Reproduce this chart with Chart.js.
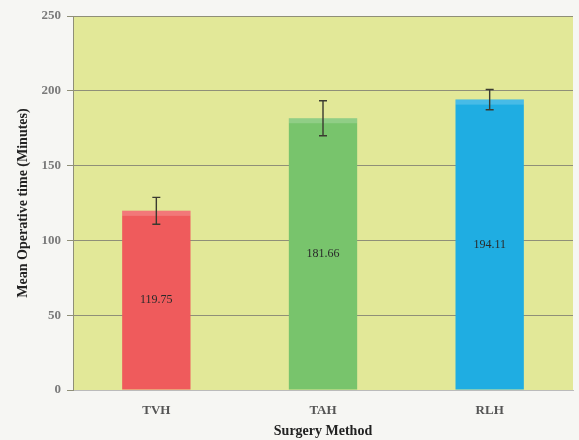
<!DOCTYPE html>
<html><head><meta charset="utf-8">
<script src="https://cdn.jsdelivr.net/npm/chart.js@4"></script>
<style>html,body{margin:0;padding:0;background:#f6f6f3;}#wrap{width:579px;height:440px;}</style>
</head><body><div id="wrap"><canvas id="c" width="579" height="440"></canvas></div>
<script>
const categories = ["TVH", "TAH", "RLH"];
const meanTime = [119.75, 181.66, 194.11];
const errorPlusMinus = [9, 11.7, 6.8];
const valueLabels = ["119.75", "181.66", "194.11"];
const yTicks = [0, 50, 100, 150, 200, 250];
const barColors = ["#ef5b5c", "#78c46c", "#1fade2"];

const bgPlugin = {
  id: 'bg',
  beforeDraw(chart) {
    const {ctx, chartArea: a} = chart;
    ctx.save();
    ctx.fillStyle = '#e2e898';
    ctx.fillRect(a.left, a.top, a.right - a.left, a.bottom - a.top);
    ctx.restore();
  }
};
const errPlugin = {
  id: 'err',
  afterDatasetsDraw(chart) {
    const {ctx} = chart;
    const meta = chart.getDatasetMeta(0);
    const y = chart.scales.y;
    ctx.save();
    meta.data.forEach((bar, i) => {
      const w = bar.width;
      ctx.fillStyle = 'rgba(255,255,255,0.18)';
      ctx.fillRect(bar.x - w / 2, bar.y, w, 5);
      const x = bar.x;
      const yt = y.getPixelForValue(meanTime[i] + errorPlusMinus[i]);
      const yb = y.getPixelForValue(meanTime[i] - errorPlusMinus[i]);
      ctx.strokeStyle = '#3a3a30';
      ctx.lineWidth = 1.4;
      ctx.beginPath();
      ctx.moveTo(x, yt); ctx.lineTo(x, yb);
      ctx.moveTo(x - 4, yt); ctx.lineTo(x + 4, yt);
      ctx.moveTo(x - 4, yb); ctx.lineTo(x + 4, yb);
      ctx.stroke();
      ctx.fillStyle = '#2a2a2a';
      ctx.font = '12px "Liberation Serif"';
      ctx.textAlign = 'center';
      ctx.textBaseline = 'middle';
      const ym = (bar.y + bar.base) / 2;
      ctx.fillText(valueLabels[i], x, ym);
    });
    ctx.restore();
  }
};

new Chart(document.getElementById('c'), {
  type: 'bar',
  data: {
    labels: categories,
    datasets: [{
      data: meanTime,
      backgroundColor: barColors,
      borderWidth: 0,
      barPercentage: 0.41,
      categoryPercentage: 1
    }]
  },
  options: {
    responsive: false,
    animation: false,
    devicePixelRatio: 1,
    layout: {padding: {top: 16, right: 6, left: 0, bottom: 0}},
    plugins: {legend: {display: false}, tooltip: {enabled: false}},
    scales: {
      x: {
        grid: {display: false},
        border: {display: true, color: '#bbb'},
        ticks: {color: '#555', font: {family: 'Liberation Serif', size: 13, weight: 'bold'}, padding: 5},
        title: {display: true, text: 'Surgery Method', color: '#222', font: {family: 'Liberation Serif', size: 14, weight: 'bold'}, padding: {top: 0, bottom: 0}},
        afterFit(s) { s.height = 50; }
      },
      y: {
        min: 0, max: 250,
        afterBuildTicks(s) { s.ticks = yTicks.map(v => ({value: v})); },
        grid: {color: '#8f8f78', lineWidth: 1, tickLength: 6, drawTicks: true},
        border: {display: true, color: '#8f8f78'},
        ticks: {color: '#7a7a7a', font: {family: 'Liberation Serif', size: 13, weight: 'bold'}, padding: 6},
        title: {display: true, text: 'Mean Operative time (Minutes)', color: '#222', font: {family: 'Liberation Serif', size: 14, weight: 'bold'}, padding: {top: 15, bottom: 4}},
        afterFit(s) { s.width = 73; }
      }
    }
  },
  plugins: [bgPlugin, errPlugin]
});
</script></body></html>
